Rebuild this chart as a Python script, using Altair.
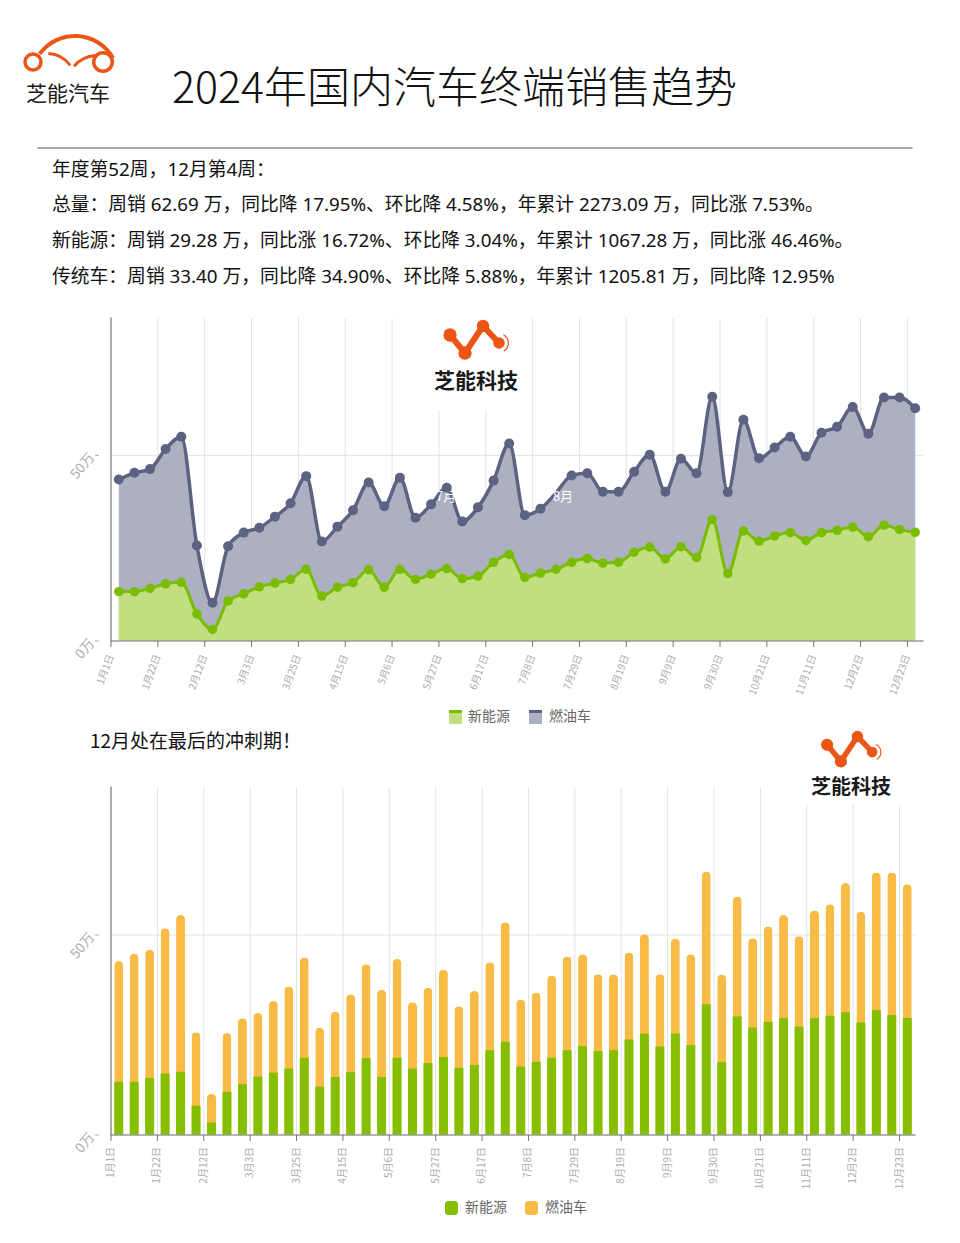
import altair as alt
import pandas as pd

FONT = "Noto Sans CJK SC"
FONT_TXT = "Noto Sans, Noto Sans CJK SC"

# ---------------- data ----------------
nev = [13.3, 13.3, 14.2, 15.4, 15.8, 7.3, 3.1, 10.8, 12.7, 14.6, 15.6, 16.6, 19.3,
       12.1, 14.5, 15.7, 19.2, 14.5, 19.3, 16.6, 18.0, 19.5, 16.8, 17.5, 21.2, 23.3,
       17.1, 18.3, 19.3, 21.2, 22.2, 21.0, 21.2, 23.9, 25.3, 22.1, 25.4, 22.5, 32.7,
       18.2, 29.6, 26.9, 28.3, 29.2, 27.1, 29.2, 29.8, 30.7, 28.1, 31.2, 30.0, 29.28]
ice = [30.2, 32.0, 32.1, 36.3, 39.2, 18.4, 7.2, 14.7, 16.5, 15.9, 17.9, 20.5, 25.1,
       14.7, 16.3, 19.5, 23.5, 21.8, 24.7, 16.6, 18.8, 21.8, 15.4, 18.5, 22.0, 29.9,
       16.8, 17.3, 20.6, 23.4, 23.0, 19.2, 19.0, 21.7, 24.9, 18.1, 23.7, 22.7, 33.1,
       21.9, 30.0, 22.3, 23.8, 25.8, 22.6, 26.9, 27.9, 32.3, 27.7, 34.4, 35.6, 33.40]
tick_days = [0, 21, 42, 63, 84, 105, 126, 147, 168, 189, 210, 231, 252, 273, 294, 315, 336, 357]
tick_labels = ["1月1日", "1月22日", "2月12日", "3月3日", "3月25日", "4月15日", "5月6日",
               "5月27日", "6月17日", "7月8日", "7月29日", "8月19日", "9月9日", "9月30日",
               "10月21日", "11月11日", "12月2日", "12月23日"]
y_ticks = [0, 50]
y_labels = ["0万", "50万"]

title = "2024年国内汽车终端销售趋势"
lines = ["年度第52周，12月第4周：",
         "总量：周销 62.69 万，同比降 17.95%、环比降 4.58%，年累计 2273.09 万，同比涨 7.53%。",
         "新能源：周销 29.28 万，同比涨 16.72%、环比降 3.04%，年累计 1067.28 万，同比涨 46.46%。",
         "传统车：周销 33.40 万，同比降 34.90%、环比降 5.88%，年累计 1205.81 万，同比降 12.95%"]
subtitle2 = "12月处在最后的冲刺期！"

df = pd.DataFrame({"week": list(range(52)), "nev": nev, "ice": ice})
df["day"] = df["week"] * 7 + 3.5
df["total"] = df["nev"] + df["ice"]
ticks_df = pd.DataFrame({"day": tick_days, "label": tick_labels, "lo": 0, "hi": 87})
yt_df = pd.DataFrame({"v": y_ticks, "lab": y_labels})

# ---------------- style ----------------
GL, GA = "#5c6382", "#adb0c1"
NL, NA = "#79bc00", "#c1de81"
BG, BO = "#86be00", "#f8bb45"
ORANGE = "#eb5516"
GRID = "#e3e3e3"
AXIS = "#9a9a9a"
LAB = "#ababab"

O = 8  # page margin


def T(x, y, s, size=14, color="#111", align="left", angle=0, weight="normal", font=FONT):
    return alt.Chart(pd.DataFrame({"t": [s]})).mark_text(
        align=align, baseline="middle", fontSize=size, color=color, font=font,
        fontWeight=weight, angle=angle).encode(
        x=alt.value(x - O), y=alt.value(y - O), text="t:N")


def R(x1, y1, x2, y2, color, w=1.0):
    return alt.Chart(pd.DataFrame({"a": [0]})).mark_rule(color=color, strokeWidth=w, strokeCap="round").encode(
        x=alt.value(x1 - O), y=alt.value(y1 - O), x2=alt.value(x2 - O), y2=alt.value(y2 - O))


def RECT(x1, y1, x2, y2, color, r=0):
    return alt.Chart(pd.DataFrame({"a": [0]})).mark_rect(color=color, cornerRadius=r).encode(
        x=alt.value(x1 - O), y=alt.value(y1 - O), x2=alt.value(x2 - O), y2=alt.value(y2 - O))


def DOT(x, y, d, color, filled=True, sw=0):
    return alt.Chart(pd.DataFrame({"a": [0]})).mark_point(
        shape="circle", filled=filled, size=d * d * 0.785, color=color, opacity=1,
        strokeWidth=sw).encode(x=alt.value(x - O), y=alt.value(y - O))


def ARC(cx, cy, r1, r2, t1, t2, color):
    return alt.Chart(pd.DataFrame({"a": [0]})).mark_arc(
        radius=r1, radius2=r2, theta=t1, theta2=t2, color=color).encode(
        x=alt.value(cx - O), y=alt.value(cy - O))


def logo(cx, cy, s, size):
    pts = [(-26, -47, 15), (-11, -29, 15), (7, -56, 14), (23, -39, 13)]
    P = [(cx + dx * s, cy + dy * s, d * s) for dx, dy, d in pts]
    out = []
    for i in range(3):
        out.append(R(P[i][0], P[i][1], P[i + 1][0], P[i + 1][1], ORANGE, 6 * s))
    for x, y, d in P:
        out.append(DOT(x, y, d, ORANGE))
    out.append(ARC(P[3][0], P[3][1], 10 * s, 8.8 * s, 0.5, 2.6, ORANGE))
    out.append(T(cx, cy, "芝能科技", size=size, color="#1a1a1a", align="center", weight="bold"))
    return out


# ---------------- header ----------------
header = [
    ARC(75, 80, 46, 42, 5.35, 7.33, ORANGE),
    ARC(47, 82, 30, 27, 0.05, 0.95, ORANGE),
    ARC(98, 88, 34, 31, 5.45, 6.2, ORANGE),
    DOT(33, 62, 18, ORANGE, filled=False, sw=3.5),
    DOT(103, 62, 21, ORANGE, filled=False, sw=3.5),
    T(68, 95, "芝能汽车", size=21, color="#1a1a1a", align="center"),
    T(172, 90, title, size=43, color="#111", weight=300),
    R(38, 148, 912, 148, "#8a8a8a", 1.5),
]
for yy, s in zip([170, 205, 241, 277], lines):
    header.append(T(52, yy, s, size=18.8, color="#111", font=FONT_TXT))
header.append(T(90, 742, subtitle2, size=19, color="#111", font=FONT))

# ---------------- top chart (area + line) ----------------
xt = alt.Scale(domain=[0, 364], range=[111 - O, 923 - O], nice=False, zero=False, padding=0)
yt = alt.Scale(domain=[0, 87], range=[641 - O, 318 - O], nice=False, padding=0)
Xt = alt.X("day:Q", scale=xt, axis=None)

top = [
    alt.Chart(ticks_df).mark_rule(color=GRID).encode(
        x=Xt, y=alt.Y("lo:Q", scale=yt, axis=None), y2="hi:Q"),
    alt.Chart(yt_df).transform_filter("datum.v > 0").mark_rule(color=GRID).encode(
        y=alt.Y("v:Q", scale=yt, axis=None), x=alt.value(111 - O), x2=alt.value(923 - O)),
    RECT(428, 316, 530, 410, "white"),
    alt.Chart(df).mark_area(color=GA, interpolate="monotone").encode(
        x=Xt, y=alt.Y("total:Q", scale=yt, axis=None)),
    alt.Chart(df).mark_area(color=NA, interpolate="monotone").encode(
        x=Xt, y=alt.Y("nev:Q", scale=yt, axis=None)),
    R(111, 318, 111, 641, AXIS, 1.6),
    R(111, 641, 923, 641, AXIS, 1.6),
    alt.Chart(ticks_df).mark_rule(color="#777").encode(
        x=Xt, y=alt.value(641 - O), y2=alt.value(647 - O)),
    alt.Chart(ticks_df).mark_text(angle=290, align="right", baseline="middle", fontSize=10,
                                  color=LAB, font=FONT).encode(
        x=Xt, y=alt.value(655 - O), text="label:N"),
    alt.Chart(yt_df).mark_rule(color=LAB).encode(
        y=alt.Y("v:Q", scale=yt, axis=None), x=alt.value(95 - O), x2=alt.value(99 - O)),
    alt.Chart(yt_df).mark_text(angle=310, align="right", baseline="middle", fontSize=13.5,
                               color=LAB, font=FONT).encode(
        y=alt.Y("v:Q", scale=yt, axis=None), x=alt.value(92 - O), text="lab:N"),
    alt.Chart(df).mark_line(color=GL, strokeWidth=3.5, interpolate="monotone").encode(
        x=Xt, y=alt.Y("total:Q", scale=yt, axis=None)),
    alt.Chart(df).mark_line(color=NL, strokeWidth=3, interpolate="monotone").encode(
        x=Xt, y=alt.Y("nev:Q", scale=yt, axis=None)),
    T(446, 497, "7月", size=13, color="white", align="center"),
    alt.Chart(df).transform_filter("datum.week != 28").mark_circle(color=GL, size=100, opacity=1).encode(
        x=Xt, y=alt.Y("total:Q", scale=yt, axis=None)),
    alt.Chart(df).mark_circle(color=NL, size=90, opacity=1).encode(
        x=Xt, y=alt.Y("nev:Q", scale=yt, axis=None)),
    T(563, 497, "8月", size=13, color="white", align="center"),
]
top += logo(476, 382, 1.0, 21)
# legend
top += [
    RECT(449, 710, 462, 724, NA), RECT(449, 710, 462, 713, NL),
    T(468, 717, "新能源", size=14, color="#666"),
    RECT(529, 710, 542, 724, GA), RECT(529, 710, 542, 713, GL),
    T(549, 717, "燃油车", size=14, color="#666"),
]

# ---------------- bottom chart (stacked bars) ----------------
xb = alt.Scale(domain=[0, 364], range=[111 - O, 915 - O], nice=False, zero=False, padding=0)
yb = alt.Scale(domain=[0, 87], range=[1135 - O, 787 - O], nice=False, padding=0)
Xb = alt.X("day:Q", scale=xb, axis=None)

bottom = [
    alt.Chart(ticks_df).mark_rule(color=GRID).encode(
        x=Xb, y=alt.Y("lo:Q", scale=yb, axis=None), y2="hi:Q"),
    alt.Chart(yt_df).transform_filter("datum.v > 0").mark_rule(color=GRID).encode(
        y=alt.Y("v:Q", scale=yb, axis=None), x=alt.value(111 - O), x2=alt.value(915 - O)),
    RECT(800, 783, 905, 805, "white"),
    alt.Chart(df).mark_bar(color=BO, size=9, cornerRadiusTopLeft=4.5, cornerRadiusTopRight=4.5).encode(
        x=Xb, y=alt.Y("total:Q", scale=yb, axis=None)),
    alt.Chart(df).mark_bar(color=BG, size=9).encode(
        x=Xb, y=alt.Y("nev:Q", scale=yb, axis=None)),
    R(111, 787, 111, 1135, AXIS, 1.6),
    R(111, 1135, 915, 1135, AXIS, 1.6),
    alt.Chart(ticks_df).mark_rule(color="#777").encode(
        x=Xb, y=alt.value(1135 - O), y2=alt.value(1141 - O)),
    alt.Chart(ticks_df).mark_text(angle=270, align="right", baseline="middle", fontSize=10,
                                  color=LAB, font=FONT).encode(
        x=Xb, y=alt.value(1147 - O), text="label:N"),
    alt.Chart(yt_df).mark_rule(color=LAB).encode(
        y=alt.Y("v:Q", scale=yb, axis=None), x=alt.value(95 - O), x2=alt.value(99 - O)),
    alt.Chart(yt_df).mark_text(angle=310, align="right", baseline="middle", fontSize=13.5,
                               color=LAB, font=FONT).encode(
        y=alt.Y("v:Q", scale=yb, axis=None), x=alt.value(92 - O), text="lab:N"),
]
bottom += logo(851, 788, 0.92, 20)
bottom += [
    RECT(445, 1201, 458, 1215, BG, 3),
    T(465, 1208, "新能源", size=14, color="#666"),
    RECT(525, 1201, 538, 1215, BO, 3),
    T(545, 1208, "燃油车", size=14, color="#666"),
]

chart = alt.layer(*header, alt.layer(*top), alt.layer(*bottom)).resolve_scale(
    x="independent", y="independent"
).properties(
    width=944, height=1227, padding=0, background="white",
    autosize=alt.AutoSizeParams(type="none")
).configure_view(stroke=None)

chart.save("out.html", embed_options={"renderer": "svg", "actions": False})
